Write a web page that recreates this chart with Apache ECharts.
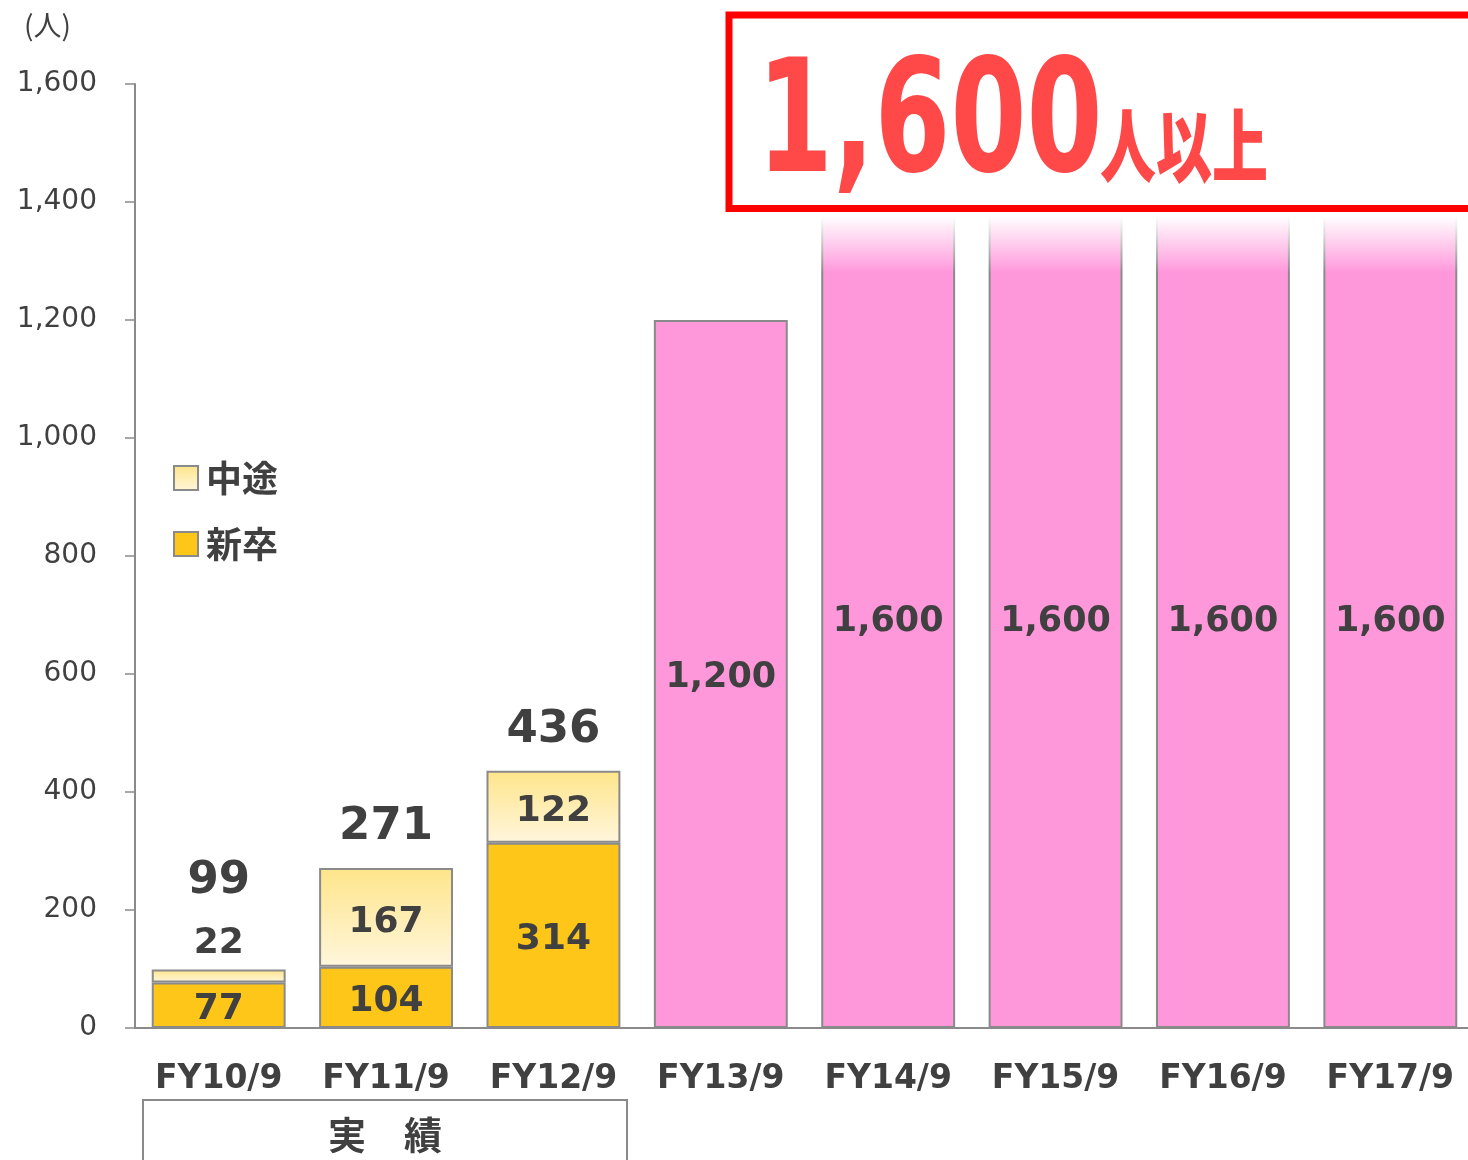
<!DOCTYPE html>
<html>
<head>
<meta charset="utf-8">
<script src="https://cdn.jsdelivr.net/npm/echarts@6/dist/echarts.min.js"></script>
<style>
  html, body { margin: 0; padding: 0; background: #fff; }
  #chart { width: 1468px; height: 1160px; }
</style>
</head>
<body>
<div id="chart"></div>
<script>
// 採用人数（人）
const categories = ['FY10/9', 'FY11/9', 'FY12/9', 'FY13/9', 'FY14/9', 'FY15/9', 'FY16/9', 'FY17/9']
const shinsotsu = [77, 104, 314, '-', '-', '-', '-', '-']   // 新卒
const chuto = [22, 167, 122, '-', '-', '-', '-', '-']       // 中途
const plan = ['-', '-', '-', 1200, 1600, 1600, 1600, 1600]  // 計画
const headline = '1,600'

const textColor = '#404040'
const edgeColor = '#8a8a8a'
const pink = '#FF97DB'
const font = 'DejaVu Sans'
const cjkFont = 'Noto Sans CJK JP'

const totals = shinsotsu.map((v, i) => (v === '-' ? '-' : v + chuto[i]))
const withComma = v => Number(v).toLocaleString('en-US')

// 上端が白くフェードする棒（見出しの枠の下に隠れる分）
const fade = (c) => ({
  type: 'linear', x: 0, y: 0, x2: 0, y2: 1,
  colorStops: [
    { offset: 0, color: '#fff' },
    { offset: 0.14, color: '#fff' },
    { offset: 0.2, color: c },
    { offset: 1, color: c }
  ]
})

const chart = echarts.init(document.getElementById('chart'))

chart.setOption({
  animation: false,
  grid: { left: 135, width: 1339, top: 84, bottom: 132, containLabel: false, outerBoundsMode: 'none' },
  legend: {
    data: ['中途', '新卒'],
    orient: 'vertical',
    left: 168,
    top: 455,
    itemWidth: 24,
    itemHeight: 24,
    itemGap: 30,
    icon: 'rect',
    selectedMode: false,
    textStyle: {
      color: textColor,
      fontSize: 36,
      fontWeight: 'bold',
      fontFamily: cjkFont,
      padding: [0, 0, 0, 3]
    }
  },
  xAxis: {
    type: 'category',
    data: categories,
    axisLine: { lineStyle: { color: edgeColor, width: 2 } },
    axisTick: { inside: true, length: 8, lineStyle: { color: edgeColor, width: 1.5 } },
    axisLabel: {
      interval: 0,
      margin: 35,
      color: textColor,
      fontSize: 33,
      fontWeight: 'bold',
      fontFamily: font
    }
  },
  yAxis: {
    type: 'value',
    min: 0,
    max: 1600,
    interval: 200,
    axisLine: { show: true, lineStyle: { color: edgeColor, width: 2 } },
    axisTick: { show: true, length: 10, lineStyle: { color: edgeColor, width: 1.5 } },
    splitLine: { show: false },
    axisLabel: {
      margin: 38,
      padding: [5, 0, 0, 0],
      color: textColor,
      fontSize: 28,
      fontFamily: font
    }
  },
  series: [{
    name: '新卒',
    type: 'bar',
    stack: 'total',
    barWidth: '80%',
    data: shinsotsu,
    itemStyle: { color: '#FDC619', borderColor: edgeColor, borderWidth: 2 },
    label: {
      show: true,
      position: 'inside',
      offset: [0, 4],
      color: textColor,
      fontSize: 36,
      fontWeight: 'bold',
      fontFamily: font
    }
  }, {
    name: '中途',
    type: 'bar',
    stack: 'total',
    data: chuto.map((v, i) => (i === 0 ? { value: v, label: { position: 'top', distance: 8, offset: [0, 0] } } : v)),
    itemStyle: {
      color: {
        type: 'linear', x: 0, y: 0, x2: 0, y2: 1,
        colorStops: [{ offset: 0, color: '#FEE58A' }, { offset: 1, color: '#FFF6DC' }]
      },
      borderColor: edgeColor,
      borderWidth: 2
    },
    label: {
      show: true,
      position: 'inside',
      offset: [0, 5],
      color: textColor,
      fontSize: 36,
      fontWeight: 'bold',
      fontFamily: font
    }
  }, {
    name: '計画',
    type: 'bar',
    stack: 'total',
    data: plan.map(v => (v >= 1600
      ? { value: v, itemStyle: { color: fade(pink), borderColor: fade(edgeColor) }, label: { offset: [0, 66] } }
      : v)),
    itemStyle: { color: pink, borderColor: edgeColor, borderWidth: 2 },
    label: {
      show: true,
      position: 'inside',
      offset: [0, 4],
      formatter: p => withComma(p.value),
      color: textColor,
      fontSize: 35,
      fontWeight: 'bold',
      fontFamily: font
    }
  }, {
    name: '合計',
    type: 'bar',
    stack: 'total',
    data: totals.map((v, i) => (v === '-' ? '-' : (i === 0 ? { value: 0, label: { distance: 66 } } : 0))),
    itemStyle: { color: 'transparent', borderWidth: 0 },
    label: {
      show: true,
      position: 'top',
      distance: 18,
      formatter: p => totals[p.dataIndex],
      color: textColor,
      fontSize: 45,
      fontWeight: 'bold',
      fontFamily: font
    }
  }],
  graphic: [{
    type: 'text',
    left: 24,
    top: 11,
    style: { text: '(人)', fill: textColor, fontSize: 28, fontFamily: cjkFont }
  }, {
    type: 'rect',
    z: 100,
    shape: { x: 729, y: 15, width: 800, height: 193.5 },
    style: { fill: '#fff', stroke: '#FF0000', lineWidth: 7 }
  }, {
    type: 'text',
    z: 101,
    x: 757,
    y: 208,
    scaleX: 0.7,
    style: {
      text: headline,
      fill: '#FF4848',
      fontSize: 156,
      fontWeight: 'bold',
      fontFamily: font,
      textVerticalAlign: 'bottom'
    }
  }, {
    type: 'text',
    z: 101,
    x: 1100,
    y: 186,
    scaleX: 0.7,
    style: {
      text: '人以上',
      fill: '#FF4848',
      fontSize: 80,
      fontWeight: 900,
      fontFamily: cjkFont,
      textVerticalAlign: 'bottom'
    }
  }, {
    type: 'rect',
    shape: { x: 143, y: 1100, width: 484, height: 80 },
    style: { fill: 'none', stroke: edgeColor, lineWidth: 2 }
  }, {
    type: 'text',
    x: 385,
    y: 1135,
    style: {
      text: '実　績',
      fill: textColor,
      fontSize: 38,
      fontWeight: 'bold',
      fontFamily: cjkFont,
      textAlign: 'center',
      textVerticalAlign: 'middle'
    }
  }]
})
</script>
</body>
</html>
